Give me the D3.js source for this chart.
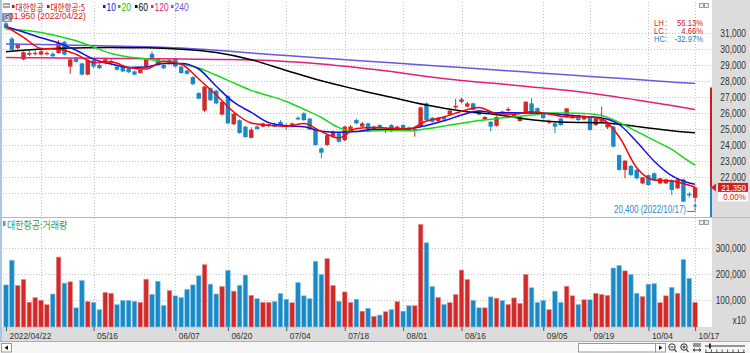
<!DOCTYPE html>
<html><head><meta charset="utf-8">
<script src="https://cdn.jsdelivr.net/npm/d3@7"></script>
<style>body{margin:0;background:#fff}svg{display:block}</style>
</head><body><svg id="c" width="750" height="353"></svg>
<script>
// ---------- DATA ----------
const dates = ["2022/04/22","05/16","06/07","06/20","07/04","07/18","08/01","08/16","09/05","09/19","10/04","10/17"];
const dateTickIdx = [0,15,29,38,48,58,68,78,92,100,110,118];
const gridIdx = [6,15,29,38,48,58,68,78,92,100,110,118];
const priceTicks = [31000,30000,29000,28000,27000,26000,25000,24000,23000,22000];
const priceGrid = [31000,30000,29000,28000,27000,26000,25000,24000,23000,22000,21000];
const volTicks = [300000,200000,100000];

const open  = [31600,30650,30050,29350,29650,29700,29650,29700,29700,29750,30450,28900,29400,29100,28400,29300,29000,29100,29150,28900,28900,28800,28600,28500,28900,29700,29350,29000,29100,29400,28900,28650,28250,27250,26150,27550,27400,25900,27050,25300,25550,25150,24450,25150,25150,25200,25300,25450,25250,25150,25700,25980,25650,24940,23790,24000,24520,24730,24310,24830,25560,25150,25350,25000,25250,24900,25250,25000,25250,25100,24900,25150,26600,25700,25500,25750,25900,26350,26700,26400,26600,26150,25600,25450,25200,26100,26150,25800,25500,25980,26600,26300,25980,25400,25350,25650,25770,25670,25870,25600,25770,25250,25450,25100,25150,23370,22440,22690,22440,21600,22120,22230,21600,21600,21810,21290,21850,20950,20700];
const high  = [31950,30750,30350,29850,29900,29900,29950,29850,29800,30550,30500,29400,29500,29150,29350,29400,29100,29450,29400,29000,28950,28850,28650,28750,29400,29850,29400,29050,29350,29450,28950,28700,28300,27300,27700,27600,27450,26750,27100,26000,25600,25200,25100,25250,25400,25350,25400,25550,25350,25400,25800,26050,25700,24950,23850,24650,24900,24800,25200,25250,25650,25450,25400,25200,25300,25100,25300,25200,25300,25150,25050,26400,26650,25750,25750,25800,26200,26900,26950,26700,26650,26200,25800,25500,25800,26150,26350,26000,25800,26750,26920,26350,26050,25600,25400,25700,26300,25900,25900,25850,25800,25700,26400,25450,25200,23400,23050,22750,22500,22000,22150,22300,21950,21900,21850,21900,21900,21050,21400];
const low   = [31250,29900,29950,29300,29550,29600,29600,29600,29450,29700,29600,28450,29150,28350,28350,28800,28750,29050,29100,28650,28550,28500,28350,28450,28850,29350,28950,28750,29050,28850,28450,28400,27750,26850,26050,26750,26550,25850,25300,25250,24700,24450,24400,24950,25100,25100,25100,25200,24950,25100,25550,25500,24950,23950,23170,23950,24450,24150,24250,24800,25300,25100,24800,24950,25050,24750,24800,24950,24950,24900,24520,25100,25500,25400,25450,25550,25850,26250,26600,26350,26150,25850,25550,24850,25150,25900,26100,25750,25450,25950,25950,25950,25650,25300,24730,25200,25750,25650,25500,25550,24900,25200,25400,25000,23850,22400,21920,22050,21850,21550,21450,21750,21550,21550,20870,21250,20450,20700,20400];
const close = [31300,29950,30300,29800,29750,29750,29850,29750,29550,30400,29650,29350,29200,28400,29300,28900,28800,29350,29250,28700,28600,28550,28400,28700,29350,29400,29000,28800,29300,28900,28500,28450,27800,26900,27650,26800,26600,26700,25350,25950,24750,24500,24950,25000,25350,25300,25150,25250,25150,25350,25600,25560,24980,24000,23520,24620,24830,24210,25150,25150,25350,25350,24830,25150,25100,25000,24850,25150,24980,24950,25000,26350,25560,25450,25700,25600,26150,26450,26850,26600,26200,25900,25750,25150,25750,25950,26250,25950,25750,26700,25980,25980,25670,25500,25150,25250,26290,25870,25560,25800,24940,25670,25600,25300,23900,22440,23020,22120,21920,21980,21500,21810,21920,21850,21190,21850,20460,20850,21350];
const volume = [158000,253000,156000,179000,91000,109000,99000,82000,123000,265000,165000,170000,70000,175000,94000,91000,63000,129000,126000,82000,98000,98000,95000,91000,180000,122000,172000,79000,136000,116000,109000,141000,158000,193000,236000,161000,123000,152000,214000,134000,157000,196000,118000,105000,91000,91000,94000,125000,103000,90000,167000,116000,105000,249000,198000,259000,156000,95000,131000,91000,103000,57000,68000,37000,42000,55000,63000,94000,57000,78000,78000,391000,320000,152000,110000,83000,90000,121000,215000,179000,99000,70000,70000,112000,107000,98000,83000,108000,87000,198000,147000,91000,98000,63000,134000,91000,153000,116000,83000,101000,101000,126000,121000,118000,223000,233000,212000,198000,126000,113000,161000,163000,90000,116000,149000,126000,256000,183000,91000];

// moving averages at sample candles
const fastIdx = [0,3,6,9,12,15,18,21,24,27,30,33,36,39,42,45,48,51,54,57,60,63,66,69,72,75,78,81,84,87,90,93,96,99,102,105,108,111,114,117,118];
const ma5  = [31406,30731,30037,29987,29675,29156,29187,28850,28750,29231,29044,28125,27125,26062,25375,25237,25169,25344,24844,24437,25031,25087,25044,25000,25500,25750,26112,26344,25969,25925,26081,25937,25750,25762,25619,24512,22581,21812,21750,21481,21356];
const ma10 = [31406,31062,30706,30381,29925,29369,29069,28850,28881,29100,29100,28750,27669,26675,26037,25400,25206,25144,24862,24794,24837,24981,24981,25012,25225,25512,25869,26125,26012,26012,26000,25969,25875,25787,25694,25281,24206,22987,22081,21631,21550];
const ma20 = [31231,31175,31037,30794,30519,30125,29719,29506,29381,29219,29056,28812,28362,27881,27412,27081,26719,26237,25719,25087,24837,24894,24925,24887,25012,25181,25362,25525,25662,25756,25869,26000,26000,25969,25844,25406,24850,24287,23725,22968,22750];
const slowIdx = [0,6,12,18,24,30,36,42,48,54,60,66,72,78,84,90,96,102,108,114,118];
const ma60  = [29831,30000,30062,30087,30075,29987,29781,29331,28662,28012,27475,26981,26494,26119,25894,25581,25419,25394,25156,24894,24769];
const ma120 = [29469,29450,29431,29412,29394,29369,29344,29312,29219,29062,28844,28594,28281,28031,27844,27625,27419,27144,26812,26469,26219];
const ma240 = [30312,30275,30237,30194,30144,30062,29925,29750,29594,29444,29287,29137,28987,28837,28687,28537,28387,28237,28094,27937,27837];

const lastPrice = 21350, rangeTop = 27600;
const highNote = "31,950 (2022/04/22)", lowNote = "20,400 (2022/10/17)";
const stats = [["LH","56.13%","#d01818"],["LC","4.66%","#d01818"],["HC","-32.97%","#1f7fbf"]];
const legend = [["대한항공","#d01010"],["대한항공:5","#e00000"],["10","#1010e0"],["20","#10c010"],["60","#000000"],["120","#e0207a"],["240","#6a58e0"]];

// ---------- SETUP ----------
const svg = d3.select("#c");
const SANS = "'Liberation Sans','DejaVu Sans',sans-serif";
const CJK = "'Noto Sans CJK KR','Noto Sans',sans-serif";
const UP = "#d02a2a", DOWN = "#1a8ac6";
const x = d3.scaleLinear().domain([0,118]).range([6,695.1]);
const y = d3.scaleLinear().domain([22000,31000]).range([177,33]);
const yv = d3.scaleLinear().domain([0,300000]).range([326,248]);

function ctext(g, px, py, str, o={}) {
  return g.append("text")
    .attr("transform", `translate(${px},${py}) scale(${o.sx||0.8},1)`)
    .attr("text-anchor", o.anchor||"start")
    .attr("font-family", o.font||SANS)
    .attr("font-size", o.size||10)
    .attr("fill", o.fill||"#222")
    .text(str);
}

// backgrounds
svg.append("rect").attr("width",750).attr("height",353).attr("fill","#fff");
svg.append("rect").attr("x",712).attr("y",0).attr("width",38).attr("height",341.5).attr("fill","#dcdcdc");
svg.append("rect").attr("x",0).attr("y",327).attr("width",750).attr("height",14.5).attr("fill","#dcdcdc");
svg.append("rect").attr("x",0).attr("y",341.5).attr("width",750).attr("height",11.5).attr("fill","#f6f6f6");
svg.append("rect").attr("x",0).attr("y",0).attr("width",2).attr("height",341.5).attr("fill","#a9c6e3");
svg.append("line").attr("x1",2).attr("x2",750).attr("y1",217.5).attr("y2",217.5).attr("stroke","#b8b8b8");
svg.append("line").attr("x1",0).attr("x2",750).attr("y1",341.5).attr("y2",341.5).attr("stroke","#b0b0b0");

// grid
const grid = svg.append("g").attr("stroke","#c4c4c4").attr("stroke-dasharray","1,2");
grid.selectAll(".hg").data(priceGrid).join("line").attr("x1",3).attr("x2",710)
  .attr("y1",d=>Math.round(y(d))+0.5).attr("y2",d=>Math.round(y(d))+0.5);
grid.selectAll(".vg").data(volTicks).join("line").attr("x1",3).attr("x2",710)
  .attr("y1",d=>Math.round(yv(d))+0.5).attr("y2",d=>Math.round(yv(d))+0.5);
grid.selectAll(".xg").data(gridIdx).join("line").attr("y1",2).attr("y2",327)
  .attr("x1",d=>Math.round(x(d))+0.5).attr("x2",d=>Math.round(x(d))+0.5);

// clip
svg.append("clipPath").attr("id","pc").append("rect").attr("x",2).attr("y",0).attr("width",708).attr("height",217);
const pg = svg.append("g").attr("clip-path","url(#pc)");

// candles
const idx = d3.range(close.length);
const col = i => close[i] >= open[i] ? UP : DOWN;
pg.selectAll(".wick").data(idx).join("line")
  .attr("x1",i=>x(i)).attr("x2",i=>x(i)).attr("y1",i=>y(high[i])).attr("y2",i=>y(low[i]))
  .attr("stroke",col).attr("stroke-width",1);
pg.selectAll(".body").data(idx).join("rect")
  .attr("x",i=>x(i)-2.2).attr("width",4.4)
  .attr("y",i=>y(Math.max(open[i],close[i])))
  .attr("height",i=>Math.max(1.2, Math.abs(y(open[i])-y(close[i]))))
  .attr("fill",col);

// moving averages
const line = d3.line().x(d=>x(d[0])).y(d=>y(d[1])).curve(d3.curveMonotoneX);
const mas = [[slowIdx,ma240,"#6a58e0"],[slowIdx,ma120,"#e0207a"],[slowIdx,ma60,"#000000"],
             [fastIdx,ma20,"#18d818"],[fastIdx,ma10,"#1010e0"],[fastIdx,ma5,"#ff0000"]];
mas.forEach(([ix,vals,c]) => {
  pg.append("path").datum(ix.map((d,k)=>[d,vals[k]])).attr("d",line)
    .attr("fill","none").attr("stroke",c).attr("stroke-width",1.5);
});

// volume
svg.append("g").selectAll("rect").data(idx).join("rect")
  .attr("x",i=>x(i)-2.3).attr("width",4.6)
  .attr("y",i=>yv(volume[i])).attr("height",i=>327-yv(volume[i]))
  .attr("fill",col).attr("stroke",i=>close[i]>=open[i]?"#ec9090":"#86c4e6").attr("stroke-width",0.6);

// price axis
const pa = svg.append("g").call(d3.axisRight(y).tickValues(priceTicks).tickSize(0).tickFormat(d3.format(",")));
pa.select(".domain").remove();
pa.selectAll("text").attr("x",0).attr("text-anchor","end").attr("transform","translate(746,0) scale(0.8,1)")
  .attr("font-family",SANS).attr("font-size",10.5).attr("fill","#333");
// volume axis
const va = svg.append("g").call(d3.axisRight(yv).tickValues(volTicks).tickSize(0).tickFormat(d3.format(",")));
va.select(".domain").remove();
va.selectAll("text").attr("x",0).attr("text-anchor","end").attr("transform","translate(746,0) scale(0.8,1)")
  .attr("font-family",SANS).attr("font-size",10.5).attr("fill","#333");
ctext(svg,746,324,"x10",{anchor:"end",size:10.5,fill:"#333"});

// date axis
const xa = svg.append("g").attr("transform","translate(0,327)")
  .call(d3.axisBottom(x).tickValues(dateTickIdx).tickSize(4).tickFormat((d,k)=>dates[k]));
xa.select(".domain").remove();
xa.selectAll("line").attr("stroke","#555");
xa.selectAll("text").attr("x",0).attr("y",0).attr("dy",null).attr("text-anchor","start")
  .attr("transform","translate(3,12) scale(0.88,1)").attr("font-family",SANS).attr("font-size",9.5).attr("fill","#333");

// current price range bar + marker
svg.append("line").attr("x1",711).attr("x2",711).attr("y1",y(rangeTop)).attr("y2",y(lastPrice)).attr("stroke","#c82020").attr("stroke-width",2);
svg.append("line").attr("x1",711).attr("x2",711).attr("y1",y(lastPrice)).attr("y2",217).attr("stroke",DOWN).attr("stroke-width",2);
const ly = y(lastPrice);
svg.append("path").attr("d",`M711,${ly} L716,${ly-4} L716,${ly+4} Z`).attr("fill","#d42020");
svg.append("rect").attr("x",718).attr("y",ly-4.5).attr("width",30).attr("height",9).attr("fill","#d42020");
ctext(svg,746,ly+3.2,d3.format(",")(lastPrice),{anchor:"end",size:9.5,fill:"#fff",sx:0.85});
svg.append("rect").attr("x",718).attr("y",ly+5).attr("width",30).attr("height",9).attr("fill","#fff");
ctext(svg,746,ly+12.6,"0.00%",{anchor:"end",size:9.5,fill:"#e02020",sx:0.85});

// stats
stats.forEach((s,k) => {
  const by = 25.5 + k*8.3;
  ctext(svg,654,by,s[0],{size:8.5,fill:s[2],sx:0.9});
  ctext(svg,665,by,":",{size:8.5,fill:s[2],sx:0.9});
  ctext(svg,703,by,s[1],{size:8.5,fill:s[2],anchor:"end",sx:0.9});
});

// "호" button, then high / low notes
svg.append("rect").attr("x",2).attr("y",13).attr("width",10).attr("height",9).attr("fill","#7f98b8");
svg.append("text").attr("x",7).attr("y",20.5).attr("text-anchor","middle").attr("font-family",CJK).attr("font-size",7.5).attr("fill","#fff").text("호");
ctext(svg,9,19,highNote,{size:9.5,fill:"#d42020",sx:0.9});
svg.append("path").attr("d","M9,15.5 L6,15.5 L6,18.5").attr("fill","none").attr("stroke","#d42020");
ctext(svg,686,213,lowNote,{size:10,fill:"#2f86bf",sx:0.8,anchor:"end"});
svg.append("path").attr("d",`M687,211.5 L${x(118)},211.5 L${x(118)},${y(20400)+1.5}`).attr("fill","none").attr("stroke","#2f86bf");
svg.append("path").attr("d",`M${x(118)-2},${y(20400)+4} L${x(118)},${y(20400)+1} L${x(118)+2},${y(20400)+4}`).attr("fill","#2f86bf");

// legend
svg.append("rect").attr("x",3).attr("y",3).attr("width",7).attr("height",5).attr("fill","#a8a8a8");
svg.append("rect").attr("x",4).attr("y",5).attr("width",5).attr("height",1).attr("fill","#fff");
const legendX = [12,47,103,118,135,151,171];
legend.forEach(([t,c],k) => {
  const lx = legendX[k];
  svg.append("rect").attr("x",lx).attr("y",5).attr("width",2.5).attr("height",3).attr("fill",c);
  const isK = /[가-힣]/.test(t);
  ctext(svg,lx+3.5,10.5,t,{size:isK?9:10,fill:c,font:isK?CJK:SANS,sx:isK?0.85:0.85});
});

// panel buttons
[3,220].forEach(by => {
  svg.append("rect").attr("x",699.5).attr("y",by+0.5).attr("width",4).attr("height",4).attr("fill","#f0f0f0").attr("stroke","#888").attr("stroke-width",0.8);
  svg.append("rect").attr("x",704.5).attr("y",by+0.5).attr("width",4).attr("height",4).attr("fill","#f0f0f0").attr("stroke","#888").attr("stroke-width",0.8);
});

// volume title
svg.append("rect").attr("x",3).attr("y",221).attr("width",2.5).attr("height",5).attr("fill","#8a8a8a");
ctext(svg,7,229,"대한항공:거래량",{size:10,fill:"#3a9a3a",font:CJK,sx:0.9});

// bottom scroll row
const sr = svg.append("g");
sr.append("rect").attr("x",1.5).attr("y",343.5).attr("width",10).attr("height",8.5).attr("fill","#fff").attr("stroke","#999");
sr.append("path").attr("d","M4.5,347.75 L8,345.5 L8,350 Z").attr("fill","#111");
sr.append("rect").attr("x",578.5).attr("y",343.5).attr("width",77).attr("height",8.5).attr("fill","#fff").attr("stroke","#999");
sr.append("rect").attr("x",655.5).attr("y",343.5).attr("width",10).attr("height",8.5).attr("fill","#fff").attr("stroke","#999");
sr.append("path").attr("d","M659,345.5 L662.5,347.75 L659,350 Z").attr("fill","#111");
[672,684].forEach((cx,k) => {
  sr.append("circle").attr("cx",cx).attr("cy",347).attr("r",3.2).attr("fill","none").attr("stroke","#333").attr("stroke-width",1);
  sr.append("line").attr("x1",cx+2.3).attr("y1",349.3).attr("x2",cx+4.5).attr("y2",351.8).attr("stroke","#333").attr("stroke-width",1.2);
  sr.append("line").attr("x1",cx-1.6).attr("x2",cx+1.6).attr("y1",347).attr("y2",347).attr("stroke","#333");
  if (k===1) sr.append("line").attr("x1",cx).attr("x2",cx).attr("y1",345.4).attr("y2",348.6).attr("stroke","#333");
});
[694,696,698,700].forEach(px => sr.append("line").attr("x1",px).attr("x2",px).attr("y1",343).attr("y2",347).attr("stroke","#333"));
sr.append("path").attr("d","M693,350 L701,350 M693,350 l2,-1.5 M693,350 l2,1.5 M701,350 l-2,-1.5 M701,350 l-2,1.5").attr("stroke","#333").attr("fill","none");
sr.append("line").attr("x1",705).attr("x2",745).attr("y1",346).attr("y2",346).attr("stroke","#333");
sr.append("rect").attr("x",709).attr("y",343.5).attr("width",2).attr("height",5).attr("fill","#333");
[706,711.4,716.8,722.2,727.6,733,738.4,743.8].forEach(px => sr.append("line").attr("x1",px).attr("x2",px).attr("y1",349.5).attr("y2",352.5).attr("stroke","#333").attr("stroke-width",0.8));
sr.append("line").attr("x1",705).attr("x2",745).attr("y1",352.5).attr("y2",352.5).attr("stroke","#333").attr("stroke-width",0.8);
</script></body></html>
